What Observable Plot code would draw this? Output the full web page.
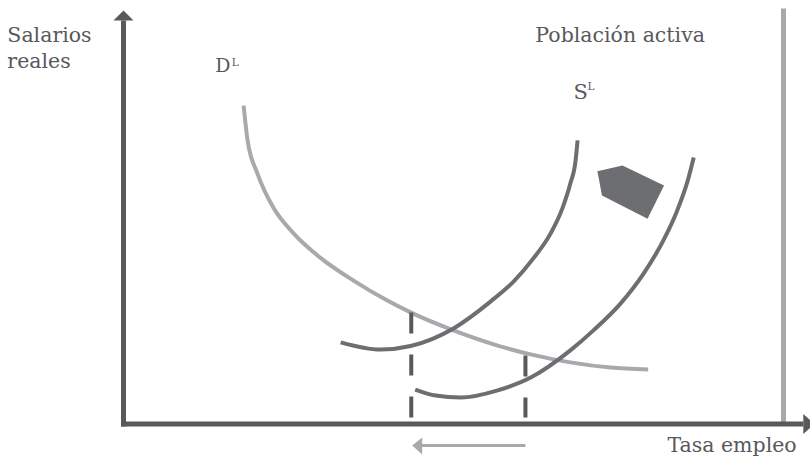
<!DOCTYPE html>
<html>
<head>
<meta charset="utf-8">
<script src="https://cdn.jsdelivr.net/npm/d3@7"></script>
<script src="https://cdn.jsdelivr.net/npm/@observablehq/plot@0.6"></script>
<style>
  html, body { margin: 0; padding: 0; background: #ffffff; }
  #chart svg { display: block; }
  #chart svg text { font-family: "DejaVu Serif", serif; }
</style>
</head>
<body>
<div id="chart"></div>
<script>
// Demand curve D^L (employment rate, real wage)
const dX = [18.2, 18.8, 20.3, 22.7, 25.8, 29.8, 34.8, 39.7, 43.5, 50.0, 56.7, 61.7, 67.7, 73.8, 79.5];
const dY = [79.6, 70.9, 62.6, 54.1, 47.6, 41.6, 35.9, 31.1, 27.9, 23.4, 19.6, 17.4, 15.4, 14.1, 13.6];
// Supply curve S^L (after shift)
const s1X = [32.9, 38.9, 43.5, 50.0, 55.6, 59.1, 62.1, 64.7, 66.5, 67.7, 68.5, 68.8];
const s1Y = [20.4, 18.6, 19.5, 23.9, 30.6, 35.6, 41.4, 47.6, 53.9, 60.1, 65.9, 70.9];
// Supply curve S^L (original)
const s2X = [44.2, 47.3, 51.1, 56.7, 61.7, 67.7, 71.2, 75.3, 78.8, 81.8, 83.9, 85.5, 86.4];
const s2Y = [8.6, 7.1, 6.6, 8.4, 11.6, 18.4, 23.4, 30.1, 37.6, 45.9, 53.4, 60.9, 66.6];
// Shift marker (pentagon arrow)
const markerX = [71.8, 75.6, 81.9, 79.4, 72.5];
const markerY = [63.2, 64.6, 59.6, 51.3, 57.1];
// Equilibrium employment levels and wages
const eqEmp = [43.6, 60.9];
const eqWage = [27.9, 17.1];
// Labour force level
const labourForce = 100;
// Texts
const yTitle = ["Salarios", "reales"];
const xTitle = "Tasa empleo";
const lfLabel = "Población activa";
const dLabel = ["D", "L"];
const sLabel = ["S", "L"];

const DARK = "#58595b";
const MID = "#6d6e71";
const LIGHT = "#a7a9ac";
const FONT = "DejaVu Serif, serif";

const pts = (xs, ys) => xs.map((x, i) => [x, ys[i]]);
const txt = (s, o) => Plot.text([s], {text: d => d, textAnchor: "start", lineAnchor: "bottom", fill: DARK, fontFamily: FONT, ...o});

const chart = Plot.plot({
  width: 810,
  height: 457,
  x: {domain: [0, 100], range: [123, 783], axis: null},
  y: {domain: [0, 100], range: [423.5, 23.5], axis: null},
  style: {background: "#ffffff", fontFamily: FONT},
  marks: [
    // labour force vertical line
    Plot.line([[labourForce, 0], [labourForce, 103.9]], {stroke: LIGHT, strokeWidth: 5, strokeLinecap: "butt"}),
    // demand curve
    Plot.line(pts(dX, dY), {curve: "monotone-x", stroke: LIGHT, strokeWidth: 4, strokeLinecap: "butt"}),
    // supply curves
    Plot.line(pts(s1X, s1Y), {curve: "monotone-x", stroke: MID, strokeWidth: 4, strokeLinecap: "butt"}),
    Plot.line(pts(s2X, s2Y), {curve: "monotone-x", stroke: MID, strokeWidth: 4, strokeLinecap: "butt"}),
    // dashed drop lines
    Plot.line([[eqEmp[0], eqWage[0]], [eqEmp[0], 1.6]], {stroke: DARK, strokeWidth: 4, strokeDasharray: "21,21", strokeLinecap: "butt"}),
    Plot.line([[eqEmp[1], eqWage[1]], [eqEmp[1], 1.6]], {stroke: DARK, strokeWidth: 4, strokeDasharray: "21,21", strokeLinecap: "butt"}),
    // pentagon marker
    Plot.line(pts(markerX, markerY), {fill: MID, stroke: "none"}),
    // axes
    Plot.line([[0, -0.63], [0, 100.9]], {stroke: DARK, strokeWidth: 5, strokeLinecap: "butt"}),
    Plot.line([[-1.52, 100.9], [0, 103.4], [1.52, 100.9]], {fill: DARK, stroke: "none"}),
    Plot.line([[-0.38, 0], [103.0, 0]], {stroke: DARK, strokeWidth: 5, strokeLinecap: "butt"}),
    Plot.line([[103.0, 2.5], [104.7, 0], [103.0, -2.5]], {fill: DARK, stroke: "none"}),
    // grey shift arrow under the axis
    Plot.line([[eqEmp[1], -5.38], [45.0, -5.38]], {stroke: LIGHT, strokeWidth: 3, strokeLinecap: "butt"}),
    Plot.line([[45.26, -3.38], [43.74, -5.38], [45.26, -7.63]], {fill: LIGHT, stroke: "none"}),
    // texts
    txt(yTitle[0], {x: -17.6, y: 95.4, fontSize: 20.5}),
    txt(yTitle[1], {x: -17.6, y: 88.9, fontSize: 20.5}),
    txt(lfLabel, {x: 62.4, y: 95.45, fontSize: 20.5}),
    txt(xTitle, {x: 102.0, y: -7.0, fontSize: 20.5, textAnchor: "end"}),
    txt(dLabel[0], {x: 13.9, y: 88.1, fontSize: 19}),
    txt(dLabel[1], {x: 16.4, y: 89.45, fontSize: 10.5}),
    txt(sLabel[0], {x: 68.2, y: 81.3, fontSize: 21}),
    txt(sLabel[1], {x: 70.3, y: 83.55, fontSize: 10.5})
  ]
});
document.getElementById("chart").appendChild(chart);
</script>
</body>
</html>
